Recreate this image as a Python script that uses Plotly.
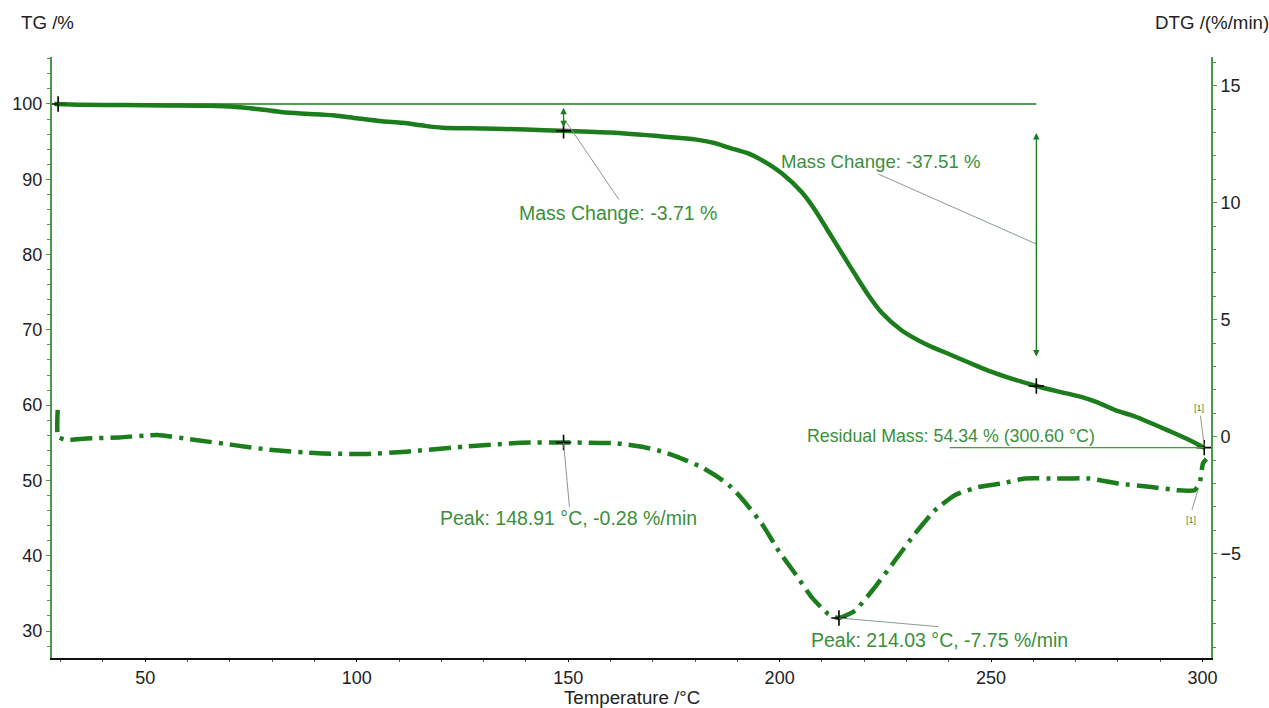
import plotly.graph_objects as go

# ---------------- data ----------------
tg_temp = [28.5, 35, 45, 55, 65, 71.4, 77, 82.5, 88, 94.3, 100, 106, 110.8, 116, 120.3,
           130, 140, 148.6, 160, 172.9, 180, 184.7, 188, 192.7, 195.8, 200.5, 205.2,
           208.4, 211.5, 214.7, 217.8, 221, 224.1, 228.8, 235.1, 240, 245, 249.3, 255,
           260.7, 266, 271.3, 275, 279.5, 283, 286.2, 291.8, 296, 300.4]
tg_mass = [100.0, 99.9, 99.85, 99.8, 99.75, 99.6, 99.3, 98.9, 98.7, 98.5, 98.1, 97.7,
           97.5, 97.1, 96.85, 96.75, 96.6, 96.45, 96.2, 95.65, 95.3, 94.8, 94.2, 93.4,
           92.55, 90.8, 88.3, 85.9, 83.1, 80.2, 77.4, 74.6, 72.3, 69.95, 67.95, 66.8,
           65.6, 64.6, 63.5, 62.55, 61.8, 61.1, 60.4, 59.3, 58.7, 58.0, 56.65, 55.6, 54.36]

dtg_temp = [29.3, 29.4, 31.3, 36, 43.9, 52.9, 61.9, 71, 80, 90.9, 102.6, 111.7, 125.2,
            138.8, 148.9, 161.3, 167.5, 172.5, 177.7, 181.5, 185.6, 188.5, 191.1, 195.8,
            199.7, 203.7, 207.6, 211.5, 214.03, 217.8, 222.5, 227.3, 232, 236.7, 241.4,
            247, 252.5, 258, 265.4, 273.3, 280, 287.9, 294.2, 298.1, 299.3, 300.1, 300.9]
dtg_rate = [1.15, 0.0, -0.14, -0.08, -0.03, 0.07, -0.14, -0.36, -0.57, -0.71, -0.74,
            -0.64, -0.43, -0.26, -0.25, -0.28, -0.43, -0.65, -1.0, -1.3, -1.75, -2.15,
            -2.65, -3.72, -4.86, -5.86, -6.87, -7.58, -7.75, -7.44, -6.44, -5.29, -4.15,
            -3.15, -2.5, -2.15, -2.0, -1.79, -1.79, -1.79, -2.0, -2.15, -2.29, -2.29,
            -2.0, -1.14, -0.95]

# evaluation points (black crosses)
tg_mark_temp = [29.4, 148.91, 260.7, 300.4]
tg_mark_mass = [100.0, 96.45, 62.55, 54.36]
dtg_mark_temp = [148.91, 214.03]
dtg_mark_rate = [-0.25, -7.75]

x_ticks = [50, 100, 150, 200, 250, 300]
tg_ticks = [30, 40, 50, 60, 70, 80, 90, 100]
dtg_ticks = [-5, 0, 5, 10, 15]

# ---------------- styles ----------------
GREEN = "#1b7d1b"
TXT_GREEN = "#3b8f3b"
AX_GREEN = "#4a9a4a"
LEAD = "#8a9a8a"
FONT = "Liberation Sans, Arial, sans-serif"

fig = go.Figure()

fig.add_trace(go.Scatter(x=tg_temp, y=tg_mass, mode="lines",
                         line=dict(color=GREEN, width=4.5, shape="spline", smoothing=0.7),
                         yaxis="y", hoverinfo="skip", showlegend=False))
fig.add_trace(go.Scatter(x=dtg_temp, y=dtg_rate, mode="lines",
                         line=dict(color=GREEN, width=4.5, dash="22px,7px,4px,7px",
                                   shape="spline", smoothing=0.5),
                         yaxis="y2", hoverinfo="skip", showlegend=False))

# reference line at 100 %
fig.add_shape(type="line", xref="x", yref="y", x0=29.4, x1=260.7, y0=100, y1=100,
              line=dict(color=GREEN, width=1.3))
# residual mass line
fig.add_shape(type="line", xref="x", yref="y", x0=240.2, x1=300.4, y0=54.36, y1=54.36,
              line=dict(color=AX_GREEN, width=1.3))

# leader lines
leaders = [
    ("y", 149.2, 97.9, 162.0, 87.3),
    ("y", 223.3, 90.7, 260.7, 81.4),
    ("y2", 148.91, -0.25, 150.3, -3.0),
    ("y2", 214.03, -7.75, 237.5, -8.12),
    ("y", 299.5, 58.6, 300.4, 54.6),
    ("y2", 297.5, -3.13, 298.9, -2.28),
]
for yr, xa, ya, xb, yb in leaders:
    fig.add_shape(type="line", xref="x", yref=yr, x0=xa, y0=ya, x1=xb, y1=yb,
                  line=dict(color=LEAD, width=1))

fig.add_trace(go.Scatter(x=tg_mark_temp, y=tg_mark_mass, mode="markers", yaxis="y",
                         marker=dict(symbol="cross-thin", size=11,
                                     line=dict(color="black", width=1.6)),
                         hoverinfo="skip", showlegend=False))
fig.add_trace(go.Scatter(x=dtg_mark_temp, y=dtg_mark_rate, mode="markers", yaxis="y2",
                         marker=dict(symbol="cross-thin", size=11,
                                     line=dict(color="black", width=1.6)),
                         hoverinfo="skip", showlegend=False))

ann = []
# double arrows
ann.append(dict(x=148.91, y=96.9, ax=148.91, ay=99.7, xref="x", yref="y", axref="x",
                ayref="y", text="", showarrow=True, arrowside="end+start", arrowhead=2,
                arrowsize=1, arrowwidth=1.3, arrowcolor=GREEN))
ann.append(dict(x=260.7, y=66.45, ax=260.7, ay=96.33, xref="x", yref="y", axref="x",
                ayref="y", text="", showarrow=True, arrowside="end+start", arrowhead=2,
                arrowsize=1, arrowwidth=1.3, arrowcolor=GREEN))

labels = [
    ("Mass Change: -3.71 %", 161.8, 85.5, "y", 19.5),
    ("Mass Change: -37.51 %", 223.9, 92.3, "y", 18.6),
    ("Residual Mass: 54.34 % (300.60 °C)", 240.5, 55.9, "y", 17.8),
    ("Peak: 148.91 °C, -0.28 %/min", 150.1, -3.47, "y2", 19.5),
    ("Peak: 214.03 °C, -7.75 %/min", 237.9, -8.69, "y2", 19.5),
]
for t, x, y, yr, fs in labels:
    ann.append(dict(x=x, y=y, xref="x", yref=yr, text=t, showarrow=False,
                    font=dict(family=FONT, size=fs, color=TXT_GREEN),
                    xanchor="center", yanchor="middle"))
ann.append(dict(x=299.2, y=59.6, xref="x", yref="y", text="[1]", showarrow=False,
                font=dict(family=FONT, size=9, color=TXT_GREEN)))
ann.append(dict(x=297.2, y=-3.55, xref="x", yref="y2", text="[1]", showarrow=False,
                font=dict(family=FONT, size=9, color=TXT_GREEN)))

# axis titles
ann.append(dict(x=(16 - 49) / 1162, y=(658 - 22) / 601, xref="paper", yref="paper",
                text="TG /%", showarrow=False, xanchor="left", yanchor="middle",
                font=dict(family=FONT, size=18.7, color="#222")))
ann.append(dict(x=(1271 - 49) / 1162, y=(658 - 22) / 601, xref="paper", yref="paper",
                text="DTG /(%/min)", showarrow=False, xanchor="right", yanchor="middle",
                font=dict(family=FONT, size=18.7, color="#222")))
ann.append(dict(x=(630 - 49) / 1162, y=(658 - 697) / 601, xref="paper", yref="paper",
                text="Temperature /°C", showarrow=False, xanchor="center", yanchor="middle",
                font=dict(family=FONT, size=18.7, color="#222")))

fig.update_layout(
    width=1269, height=708,
    margin=dict(l=49, r=58, t=57, b=50),
    paper_bgcolor="white", plot_bgcolor="white",
    font=dict(family=FONT, size=18, color="#222"),
    annotations=ann,
    xaxis=dict(range=[27.95, 302], tickvals=x_ticks, showgrid=False, zeroline=False,
               showline=True, linecolor="#111", linewidth=2, ticks="outside",
               ticklen=2, tickcolor="#111", mirror=False,
               minor=dict(dtick=10, tick0=0, ticks="outside", ticklen=2, tickcolor="#555")),
    yaxis=dict(range=[26.42, 106.24], tickvals=tg_ticks, showgrid=False, zeroline=False,
               showline=True, linecolor=AX_GREEN, linewidth=2, ticks="outside",
               ticklen=4, tickcolor=AX_GREEN,
               minor=dict(dtick=2, tick0=0, ticks="outside", ticklen=3, tickcolor=AX_GREEN)),
    yaxis2=dict(range=[-9.46, 16.23], tickvals=dtg_ticks, overlaying="y", side="right",
                showgrid=False, zeroline=False, showline=True, linecolor=AX_GREEN,
                linewidth=2, ticks="outside", ticklen=4, tickcolor=AX_GREEN,
                minor=dict(dtick=1, tick0=0, ticks="outside", ticklen=3, tickcolor=AX_GREEN)),
)

fig.write_html("out.html")
